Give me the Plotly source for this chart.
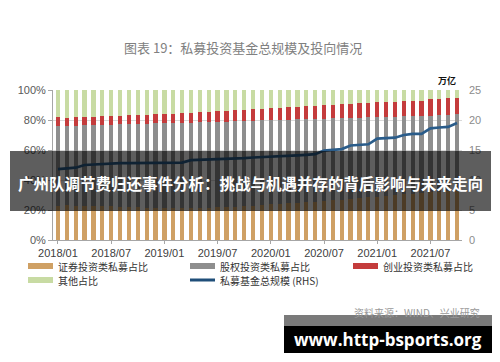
import plotly.graph_objects as go

months = [
    "2018/01", "2018/02", "2018/03", "2018/04", "2018/05", "2018/06",
    "2018/07", "2018/08", "2018/09", "2018/10", "2018/11", "2018/12",
    "2019/01", "2019/02", "2019/03", "2019/04", "2019/05", "2019/06",
    "2019/07", "2019/08", "2019/09", "2019/10", "2019/11", "2019/12",
    "2020/01", "2020/02", "2020/03", "2020/04", "2020/05", "2020/06",
    "2020/07", "2020/08", "2020/09", "2020/10", "2020/11", "2020/12",
    "2021/01", "2021/02", "2021/03", "2021/04", "2021/05", "2021/06",
    "2021/07", "2021/08", "2021/09", "2021/10",
]
tick_labels = ["2018/01", "2018/07", "2019/01", "2019/07",
               "2020/01", "2020/07", "2021/01", "2021/07"]

# shares in %
securities = [23.0, 23.2, 23.0, 22.8, 22.6, 22.5, 22.4, 22.2, 22.0, 21.8,
              21.6, 21.5, 21.4, 21.3, 21.2, 21.2, 21.3, 21.5, 21.8, 22.0,
              22.3, 22.6, 23.0, 23.3, 23.7, 24.0, 24.4, 24.8, 25.2, 25.6,
              26.0, 26.5, 27.0, 27.5, 28.0, 28.5, 29.0, 29.5, 30.0, 30.5,
              31.0, 31.4, 31.8, 32.2, 32.6, 33.0]
equity = [53.2, 52.8, 53.3, 53.7, 54.0, 54.3, 54.5, 54.9, 55.2, 55.6,
          55.9, 56.2, 56.4, 56.7, 56.9, 57.1, 57.1, 57.1, 57.0, 57.0,
          56.8, 56.8, 56.6, 56.5, 56.3, 56.2, 55.9, 55.7, 55.4, 55.2,
          55.0, 54.6, 54.3, 54.0, 53.6, 53.3, 52.9, 52.6, 52.3, 51.9,
          51.6, 51.4, 51.2, 51.1, 51.0, 50.8]
venture = [5.6, 5.6, 5.5, 5.5, 5.6, 5.6, 5.8, 5.8, 5.9, 6.0,
           6.1, 6.1, 6.2, 6.2, 6.3, 6.6, 6.7, 6.7, 7.0, 7.0,
           7.3, 7.6, 7.6, 7.7, 7.8, 8.0, 8.4, 8.4, 8.7, 8.7,
           8.8, 8.9, 9.1, 9.4, 9.5, 9.8, 9.9, 9.9, 9.9, 10.0,
           10.1, 10.1, 10.8, 10.9, 10.9, 10.9]
other = [18.2, 18.4, 18.2, 18.0, 17.8, 17.6, 17.3, 17.1, 16.9, 16.6,
         16.4, 16.2, 16.0, 15.8, 15.6, 15.1, 14.9, 14.7, 14.2, 14.0,
         13.6, 13.0, 12.8, 12.5, 12.2, 11.8, 11.3, 11.1, 10.7, 10.5,
         10.2, 10.0, 9.6, 9.1, 8.9, 8.4, 8.2, 8.0, 7.8, 7.6,
         7.3, 7.1, 6.2, 5.8, 5.5, 5.3]
# total scale, trillion yuan (RHS)
scale = [11.8, 11.95, 12.05, 12.5, 12.6, 12.65, 12.75, 12.8, 12.8, 12.8,
         12.8, 12.85, 12.85, 12.85, 12.9, 13.3, 13.35, 13.4, 13.4, 13.45,
         13.5, 13.65, 13.75, 13.8, 13.85, 13.9, 14.0, 14.1, 14.2, 14.3,
         14.9, 15.0, 15.15, 15.75, 15.8, 15.95, 16.9, 17.0, 17.05, 17.5,
         17.7, 17.7, 18.6, 18.75, 18.85, 19.5]

series_names = ["证券投资类私募占比", "股权投资类私募占比", "创业投资类私募占比",
                "其他占比", "私募基金总规模 (RHS)"]
colors = ["#cfa064", "#8e8e8e", "#c43c3c", "#c8dba3", "#2a5c8a"]

# the page body has an 8px default margin, so the figure is 8px smaller
PAGE_OFF = 8
W, H = 500 - PAGE_OFF, 362 - PAGE_OFF
# plot area in reference (page) pixels
L, R, T, B = 53, 462, 90, 240


def px(x):
    return (x - L) / (R - L)


def py(y):
    return (B - y) / (B - T)


fig = go.Figure()
for vals, name, col in zip([securities, equity, venture, other], series_names[:4], colors[:4]):
    fig.add_trace(go.Bar(x=months, y=vals, name=name, marker_color=col,
                         marker_line_width=0, showlegend=False))
fig.add_trace(go.Scatter(x=months, y=scale, name=series_names[4], yaxis="y2",
                         mode="lines", line=dict(color=colors[4], width=2.7),
                         showlegend=False))

shapes = []
annotations = []

# manual legend
leg = [
    (28, 266, 0, "bar"), (190, 266, 1, "bar"), (353, 266, 2, "bar"),
    (28, 280, 3, "bar"), (190, 280, 4, "line"),
]
for x0, yc, idx, kind in leg:
    if kind == "bar":
        shapes.append(dict(type="rect", xref="paper", yref="paper",
                           x0=px(x0), x1=px(x0 + 25), y0=py(yc + 3), y1=py(yc - 3),
                           fillcolor=colors[idx], line_width=0))
    else:
        shapes.append(dict(type="line", xref="paper", yref="paper",
                           x0=px(x0), x1=px(x0 + 25), y0=py(yc), y1=py(yc),
                           line=dict(color="#1f4e79", width=3)))
    annotations.append(dict(text=series_names[idx], xref="paper", yref="paper",
                            x=px(x0 + 28), y=py(yc), xanchor="left", yanchor="middle",
                            showarrow=False,
                            font=dict(size=10, color="#333333", family="Noto Sans CJK SC")))

# title, unit, source
annotations.append(dict(text="图表 19：私募投资基金总规模及投向情况", xref="paper", yref="paper",
                        x=px(243), y=py(47), xanchor="center", yanchor="middle", showarrow=False,
                        font=dict(size=13, color="#808080", family="Noto Sans CJK SC")))
annotations.append(dict(text="<b>万亿</b>", xref="paper", yref="paper",
                        x=px(447), y=py(80), xanchor="center", yanchor="middle", showarrow=False,
                        font=dict(size=9, color="#111111", family="Noto Sans CJK SC")))
annotations.append(dict(text="资料来源：WIND、兴业研究", xref="paper", yref="paper",
                        x=px(482), y=py(312), xanchor="right", yanchor="middle", showarrow=False,
                        font=dict(size=10, color="#999999", family="Noto Sans CJK SC")))

# overlay banner
shapes.append(dict(type="rect", xref="paper", yref="paper", layer="above",
                   x0=px(10), x1=px(491), y0=py(211), y1=py(151),
                   fillcolor="rgba(0,0,0,0.63)", line_width=0))
annotations.append(dict(text="<b>广州队调节费归还事件分析：挑战与机遇并存的背后影响与未来走向</b>",
                        xref="paper", yref="paper", x=px(250), y=py(183),
                        xanchor="center", yanchor="middle", showarrow=False,
                        font=dict(size=15.5, color="white", family="Noto Sans CJK SC")))

# watermark box
shapes.append(dict(type="rect", xref="paper", yref="paper", layer="above",
                   x0=px(284), x1=px(492), y0=py(326), y1=py(315),
                   fillcolor="#7a7a7a", line_width=0))
shapes.append(dict(type="rect", xref="paper", yref="paper", layer="above",
                   x0=px(284), x1=px(492), y0=py(353), y1=py(326),
                   fillcolor="#000000", line_width=0))
annotations.append(dict(text="<b>www.http-bsports.org</b>", xref="paper", yref="paper",
                        x=px(388), y=py(339), xanchor="center", yanchor="middle", showarrow=False,
                        font=dict(size=17, color="white", family="Open Sans")))

fig.update_layout(
    width=W, height=H,
    margin=dict(l=L - PAGE_OFF, r=500 - R, t=T - PAGE_OFF, b=362 - B, autoexpand=False),
    paper_bgcolor="white", plot_bgcolor="white",
    barmode="stack", bargap=0.52,
    showlegend=False,
    font=dict(family="Noto Sans CJK SC", size=11, color="#404040"),
    xaxis=dict(type="category", range=[-0.56, 45.56], tickmode="array",
               tickvals=tick_labels, ticktext=tick_labels,
               showline=True, linecolor="#a6a6a6", linewidth=1,
               ticks="outside", ticklen=3, tickcolor="#a6a6a6",
               showgrid=False, tickangle=0,
               tickfont=dict(size=11, color="#404040", family="Liberation Sans")),
    yaxis=dict(range=[0, 100], dtick=20, ticksuffix="%",
               showline=True, linecolor="#a6a6a6", linewidth=1,
               ticks="outside", ticklen=4, tickcolor="#a6a6a6",
               showgrid=True, gridcolor="#d9d9d9", gridwidth=1, zeroline=False,
               tickfont=dict(size=11, color="#595959", family="Liberation Sans")),
    yaxis2=dict(range=[0, 25], dtick=5, overlaying="y", side="right",
                showgrid=False, showline=False, zeroline=False, ticks="",
                ticklabelstandoff=6,
                tickfont=dict(size=11, color="#8c8c8c", family="Liberation Sans")),
    shapes=shapes,
    annotations=annotations,
)

fig.write_html("out.html")
